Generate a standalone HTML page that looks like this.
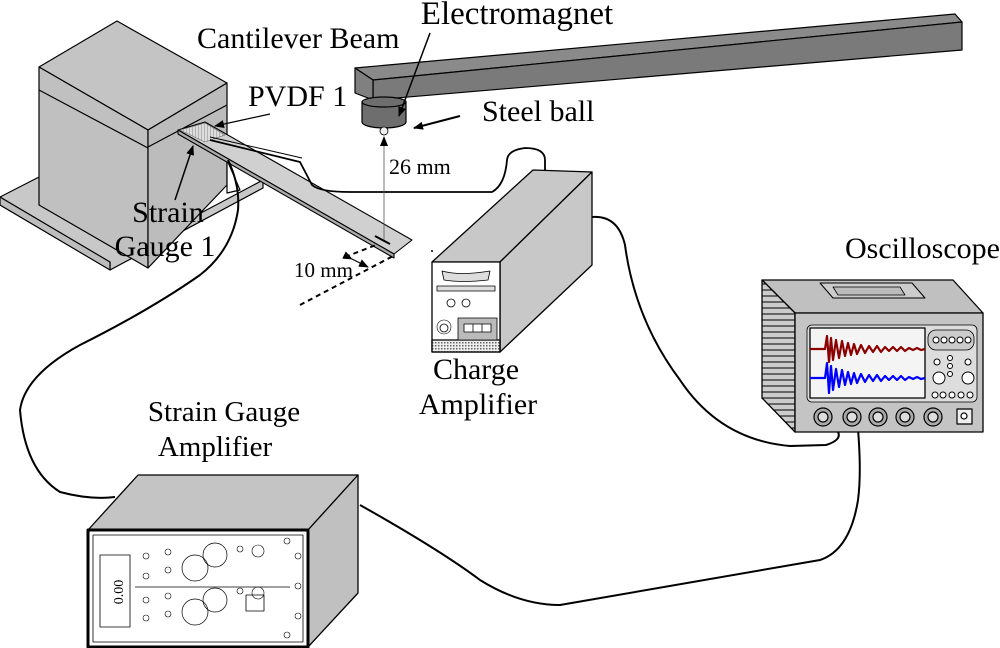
<!DOCTYPE html>
<html><head><meta charset="utf-8"><style>
html,body{margin:0;padding:0;background:#fff}
svg{display:block}
text{font-family:"Liberation Serif",serif;fill:#000}
</style></head><body>
<svg width="1000" height="648" viewBox="0 0 1000 648" xmlns="http://www.w3.org/2000/svg" stroke-linejoin="round">
<defs>
<marker id="ah" markerWidth="10" markerHeight="8" refX="9" refY="4" orient="auto" markerUnits="userSpaceOnUse"><path d="M0,0 L10,4 L0,8 Z" fill="#000"/></marker>
<pattern id="hatch" width="3" height="3" patternUnits="userSpaceOnUse"><rect width="3" height="3" fill="#ddd"/><line x1="0" y1="0" x2="0" y2="3" stroke="#888" stroke-width="1"/></pattern>
<pattern id="dots" width="3" height="3" patternUnits="userSpaceOnUse"><rect width="3" height="3" fill="#eee"/><rect width="1.5" height="1.5" fill="#666"/></pattern>
<pattern id="vent" width="6" height="6" patternUnits="userSpaceOnUse"><rect width="6" height="6" fill="#ccc"/><line x1="0" y1="2" x2="6" y2="2" stroke="#000" stroke-width="1"/></pattern>
</defs>

<!-- clamp block -->
<g stroke="#000" stroke-width="1.2" fill="#c8c8c8">
<polygon points="0,197 39,177 150,240 263,180 263,188 110,270 110,262 0,205"/>
<polygon points="0,197 110,262 110,270 0,205" fill="#bdbdbd"/>
<polygon points="39,67 117,21 227,83 148,130" fill="#c4c4c4"/>
<polygon points="39,67 148,130 148,268 39,205" fill="#c0c0c0"/>
<polygon points="148,130 227,83 227,185 148,268" fill="#bcbcbc"/>
<line x1="39" y1="90" x2="148" y2="148"/>
<line x1="148" y1="147" x2="227" y2="105"/>
<polygon points="227,160 240,190 227,193" fill="#fff"/>
</g>
<!-- beam -->
<g stroke="#000" stroke-width="1.1">
<polygon points="178,130 205,122 412,240 394,254" fill="#d0d0d0"/>
<polygon points="178,130 394,254 394,258 178,134" fill="#aaa"/>
<polygon points="180,130 205,123 225,135 205,142" fill="url(#hatch)" stroke="#666" stroke-width="0.6"/>
<line x1="375" y1="236" x2="390" y2="244" stroke-width="2"/>
</g>
<!-- PVDF wires -->
<path d="M210,140 L300,162 L312,185 Q320,192 350,192 L492,192 Q505,185 507,160 Q508,150 525,148 Q545,148 545,160 L545,172" fill="none" stroke="#000" stroke-width="1.8"/>
<path d="M210,137 L302,158" fill="none" stroke="#000" stroke-width="1"/>
<!-- strain gauge cable -->
<path d="M228,160 Q240,185 238,210 Q232,250 200,275 Q150,310 80,345 Q25,375 20,410 Q25,470 60,492 Q90,500 115,497" fill="none" stroke="#000" stroke-width="2"/>

<!-- dashed dims -->
<g stroke="#000" stroke-width="2" stroke-dasharray="5,4" fill="none">
<line x1="300" y1="305" x2="395" y2="255"/>
<line x1="345" y1="257" x2="376" y2="245"/>
</g>
<circle cx="432" cy="251" r="1" fill="#000"/>
<line x1="352" y1="259" x2="368" y2="267" stroke="#000" stroke-width="1.2" marker-end="url(#ah)" marker-start="url(#ah)"/>
<text x="294" y="277" font-size="21">10 mm</text>

<!-- electromagnet arm -->
<g stroke="#000" stroke-width="1.2">
<polygon points="355,68 955,14 962,22 373,80" fill="#8a8a8a"/>
<polygon points="373,80 962,22 962,50 373,100" fill="#7a7a7a"/>
<polygon points="355,68 373,80 373,100 355,93" fill="#808080"/>
<path d="M362,102 L362,122 A22,6 0 0 0 406,122 L406,102" fill="#6e6e6e"/>
<ellipse cx="384" cy="102" rx="22" ry="5" fill="#6e6e6e"/>
<circle cx="384" cy="131" r="4" fill="#eee" stroke-width="0.8"/>
</g>
<line x1="384" y1="240" x2="384" y2="137" stroke="#555" stroke-width="0.8" marker-end="url(#ah)"/>
<text x="389" y="174" font-size="22">26 mm</text>
<line x1="460" y1="116" x2="414" y2="128" stroke="#000" stroke-width="2" marker-end="url(#ah)"/>
<text x="482" y="121" font-size="30">Steel ball</text>
<line x1="430" y1="33" x2="399" y2="116" stroke="#000" stroke-width="1.5" marker-end="url(#ah)"/>
<text x="517" y="24" font-size="33" text-anchor="middle">Electromagnet</text>
<text x="197" y="48" font-size="30">Cantilever Beam</text>
<line x1="270" y1="114" x2="215" y2="126" stroke="#000" stroke-width="1.2" marker-end="url(#ah)"/>
<text x="248" y="106" font-size="30">PVDF 1</text>
<line x1="175" y1="200" x2="193" y2="146" stroke="#000" stroke-width="1.5" marker-end="url(#ah)"/>
<text x="168" y="222" font-size="30" text-anchor="middle">Strain</text>
<text x="165" y="256" font-size="30" text-anchor="middle">Gauge 1</text>

<!-- charge amplifier -->
<g stroke="#000" stroke-width="1.3">
<polygon points="432,262 533,170 592,172 500,262" fill="#c8c8c8"/>
<polygon points="500,262 592,172 592,265 500,352" fill="#c8c8c8"/>
<polygon points="432,262 500,262 500,352 432,352" fill="#fff"/>
<rect x="432" y="340" width="68" height="12" fill="url(#dots)"/>
<rect x="458" y="318" width="39" height="22" fill="#bbb" stroke-width="0.8"/>
<path d="M442,271 Q460,276 490,271 L488,280 Q462,283 444,280 Z" fill="#ddd" stroke-width="0.8"/>
<rect x="437" y="286" width="58" height="5" fill="#ddd" stroke-width="0.8"/>
<circle cx="451" cy="303" r="4" fill="#fff" stroke-width="0.8"/>
<circle cx="466" cy="303" r="4" fill="#fff" stroke-width="0.8"/>
<circle cx="444" cy="327" r="7" fill="#fff" stroke-width="0.6"/>
<circle cx="444" cy="328" r="4" fill="#fff" stroke-width="0.8"/>
<rect x="464" y="324" width="27" height="8" fill="#fff" stroke-width="0.8"/>
<line x1="473" y1="324" x2="473" y2="332" stroke-width="0.8"/>
<line x1="482" y1="324" x2="482" y2="332" stroke-width="0.8"/>
</g>
<text x="476" y="379" font-size="30" text-anchor="middle">Charge</text>
<text x="478" y="414" font-size="30" text-anchor="middle">Amplifier</text>

<!-- cables to scope -->
<path d="M592,217 Q618,215 625,245 Q635,320 680,380 Q720,440 790,446 L826,445 Q842,440 838,432 Q835,425 825,418" fill="none" stroke="#000" stroke-width="2"/>
<path d="M360,505 Q440,550 480,580 Q520,605 560,605 L820,560 Q850,550 858,500 Q862,470 857,418" fill="none" stroke="#000" stroke-width="2"/>

<!-- oscilloscope -->
<g stroke="#000" stroke-width="1.3">
<polygon points="762,280 953,280 983,313 795,313" fill="#c0c0c0"/>
<polygon points="762,280 795,313 795,432 762,398" fill="url(#vent)"/>
<rect x="795" y="313" width="188" height="119" fill="#c4c4c4"/>
<polygon points="820,283 912,283 925,298 833,298" fill="#ccc" stroke-width="1"/>
<polygon points="833,287 900,287 905,295 838,295" fill="#bbb" stroke-width="0.8"/>
<rect x="807" y="325" width="170" height="77" rx="5" fill="#ddd" stroke-width="0.8"/>
<rect x="810" y="328" width="115" height="70" fill="#f4f4f4"/>
<rect x="928" y="330" width="46" height="20" rx="8" fill="#ccc" stroke-width="0.8"/>
</g>
<polyline fill="none" stroke="#8b0000" stroke-width="2.2" points="810,349 825,349 827,336 829,362 831,338 833,360 836,340 839,358 842,341 845,356 848,343 851,355 854,344 857,354 861,345 865,353 869,346 873,352 877,346 881,352 885,347 889,351 893,347 897,351 901,347 905,351 909,348 913,350 917,348 921,350 925,349"/>
<polyline fill="none" stroke="#0000ff" stroke-width="2.2" points="810,378 825,378 827,363 829,393 831,366 833,390 836,369 839,387 842,370 845,385 848,372 851,384 854,373 857,383 861,374 865,382 869,375 873,381 877,375 881,381 885,376 889,380 893,376 897,380 901,376 905,380 909,377 913,379 917,377 921,379 925,378"/>
<g stroke="#000" stroke-width="1" fill="#fff">
<circle cx="936" cy="340" r="3"/><circle cx="944" cy="340" r="3"/><circle cx="952" cy="340" r="3"/><circle cx="960" cy="340" r="3"/><circle cx="968" cy="340" r="3"/>
<circle cx="937" cy="362" r="3"/><circle cx="950" cy="358" r="2.5"/><circle cx="950" cy="366" r="2.5"/><circle cx="950" cy="374" r="2.5"/><circle cx="968" cy="362" r="3"/>
<circle cx="939" cy="378" r="6"/><circle cx="968" cy="378" r="6"/>
<circle cx="935" cy="395" r="3"/><circle cx="943" cy="395" r="3"/><circle cx="952" cy="395" r="3"/><circle cx="961" cy="395" r="3"/><circle cx="970" cy="395" r="3"/>
</g>
<g stroke="#000" fill="#aaa" stroke-width="1.2">
<circle cx="823" cy="417" r="9"/><circle cx="852" cy="417" r="9"/><circle cx="878" cy="417" r="9"/><circle cx="905" cy="417" r="9"/><circle cx="933" cy="417" r="9"/>
</g>
<g stroke="#000" fill="#ddd" stroke-width="1.2">
<circle cx="823" cy="417" r="5"/><circle cx="852" cy="417" r="5"/><circle cx="878" cy="417" r="5"/><circle cx="905" cy="417" r="5"/><circle cx="933" cy="417" r="5"/>
<rect x="957" y="409" width="15" height="15" fill="#eee"/><circle cx="964" cy="416" r="3" fill="#fff"/>
</g>
<text x="845" y="258" font-size="30">Oscilloscope</text>

<!-- strain gauge amplifier -->
<g stroke="#000">
<polygon points="88,530 138,475 358,475 308,530" fill="#c4c4c4" stroke-width="1.3"/>
<polygon points="308,530 358,475 358,593 308,647" fill="#c0c0c0" stroke-width="1.3"/>
<rect x="88" y="530" width="220" height="117" fill="#fff" stroke-width="3"/>
<rect x="93" y="535" width="210" height="107" fill="none" stroke-width="0.8"/>
<rect x="100" y="555" width="30" height="72" fill="none" stroke-width="0.8"/>
<line x1="135" y1="587" x2="290" y2="587" stroke-width="0.8"/>
<circle cx="195" cy="568" r="13" fill="none" stroke-width="0.7"/>
<circle cx="215" cy="555" r="12" fill="none" stroke-width="0.7"/>
<circle cx="195" cy="612" r="13" fill="none" stroke-width="0.7"/>
<circle cx="215" cy="600" r="12" fill="none" stroke-width="0.7"/>
<rect x="246" y="595" width="18" height="16" fill="none" stroke-width="0.8"/>
<g fill="none" stroke-width="0.6">
<circle cx="146" cy="556" r="3"/><circle cx="146" cy="576" r="3"/><circle cx="146" cy="600" r="3"/><circle cx="146" cy="618" r="3"/>
<circle cx="168" cy="552" r="3"/><circle cx="168" cy="570" r="3"/><circle cx="168" cy="596" r="3"/><circle cx="168" cy="614" r="3"/>
<circle cx="240" cy="549" r="3"/><circle cx="258" cy="551" r="6"/><circle cx="240" cy="591" r="3"/><circle cx="258" cy="593" r="6"/>
<circle cx="287" cy="541" r="3"/><circle cx="298" cy="556" r="3"/><circle cx="298" cy="586" r="3"/><circle cx="298" cy="616" r="3"/><circle cx="287" cy="635" r="3"/>
</g>
</g>
<text x="0" y="0" font-size="14" transform="translate(123,592) rotate(-90)" text-anchor="middle">0.00</text>
<text x="224" y="421" font-size="29" text-anchor="middle">Strain Gauge</text>
<text x="215" y="456" font-size="29" text-anchor="middle">Amplifier</text>
</svg>
</body></html>
